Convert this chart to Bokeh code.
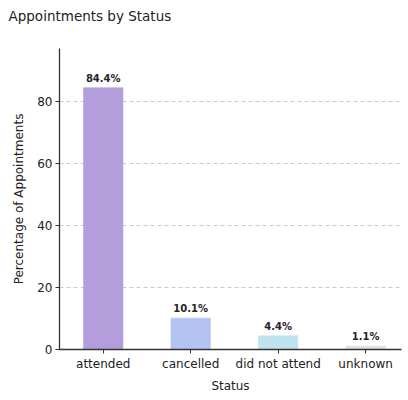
from bokeh.plotting import figure
from bokeh.models import ColumnDataSource, Range1d, FixedTicker, CustomJSTickFormatter, Title
from bokeh.embed import file_html
from bokeh.resources import INLINE
from bokeh.core.properties import value

# Share of appointments per status (percent)
statuses = ["attended", "cancelled", "did not attend", "unknown"]
percentages = [84.4, 10.1, 4.4, 1.1]
bar_colors = ["#b39ddb", "#b3c3f2", "#bfe3ef", "#e3e3e3"]
y_ticks = [0, 20, 40, 60, 80]

positions = list(range(len(statuses)))
labels = [f"{v:.1f}%" for v in percentages]

src = ColumnDataSource(dict(x=positions, top=percentages, color=bar_colors, label=labels))

FONT = "DejaVu Sans"

p = figure(width=408, height=400, output_backend="svg", toolbar_location=None,
           x_range=Range1d(-0.5, 3.41), y_range=Range1d(0, 97.06),
           min_border_left=59, min_border_right=7, min_border_top=0, min_border_bottom=51)
p.outline_line_color = None
p.background_fill_color = "white"
p.border_fill_color = "white"

p.vbar(x="x", top="top", bottom=0, width=0.45, fill_color="color", line_color="color",
       line_alpha=0.6, source=src)

p.text(x="x", y="top", text="label", source=src, text_align="center", text_baseline="bottom",
       y_offset=-4, text_font=value(FONT), text_font_size="10px", text_font_style="bold",
       text_color="#262626")

# Title at the top-left corner of the page
p.title.text = "Appointments by Status"
p.title.text_font = FONT
p.title.text_font_size = "13.5px"
p.title.text_font_style = "normal"
p.title.text_color = "#222222"
p.title.align = "left"
p.title.offset = -51
p.title.standoff = 10

# blank band between the title and the plot area
p.add_layout(Title(text=" ", text_font=FONT, text_font_size="13.5px", standoff=2), "above")

# Axes
p.xaxis.ticker = FixedTicker(ticks=positions)
p.xaxis.formatter = CustomJSTickFormatter(args=dict(names=statuses),
                                          code="return names[Math.round(tick)];")
p.yaxis.ticker = FixedTicker(ticks=y_ticks)
for ax in (p.xaxis[0], p.yaxis[0]):
    ax.axis_line_color = "#333333"
    ax.axis_line_width = 1.3
    ax.major_tick_line_color = "#333333"
    ax.major_tick_out = 4
    ax.major_tick_in = 0
    ax.minor_tick_line_color = None
    ax.major_label_text_font = FONT
    ax.major_label_text_font_size = "12px"
    ax.major_label_text_color = "#222222"
    ax.axis_label_text_font = FONT
    ax.axis_label_text_font_size = "12px"
    ax.axis_label_text_font_style = "normal"
    ax.axis_label_text_color = "#222222"
p.xaxis.axis_label = "Status"
p.yaxis.axis_label = "Percentage of Appointments"
p.xaxis.major_label_standoff = 3
p.yaxis.major_label_standoff = 3
p.xaxis.axis_label_standoff = 5
p.yaxis.axis_label_standoff = 8

p.xgrid.grid_line_color = None
p.ygrid.ticker = FixedTicker(ticks=[20, 40, 60, 80])
p.ygrid.grid_line_color = "#bdbdbd"
p.ygrid.grid_line_dash = "4 3"
p.ygrid.grid_line_width = 0.8
p.ygrid.level = "underlay"

open("out.html", "w").write(file_html(p, INLINE))
